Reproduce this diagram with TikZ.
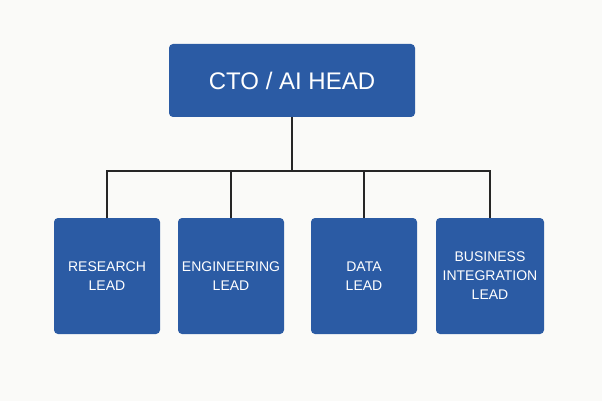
\documentclass[tikz,border=0pt]{standalone}
\usepackage{fontspec}
\setmainfont{Liberation Sans}
\usetikzlibrary{positioning}
\definecolor{leadblue}{RGB}{43,91,164}
\definecolor{paper}{RGB}{250,250,248}
\tikzset{headbox/.style={rounded corners=4, fill=leadblue, text=white, minimum width=246pt, minimum height=73pt, font=\fontsize{24}{26}\selectfont}}
\tikzset{leadbox/.style={rounded corners=4, fill=leadblue, text=white, minimum width=106pt, minimum height=116pt, align=center, font=\fontsize{14}{19}\selectfont}}
\tikzset{wire/.style={draw, line width=1.6pt, black!85}}
\begin{document}
\begin{tikzpicture}[x=1pt,y=-1pt]
    \fill[paper] (0,0) rectangle (602,401);
    \useasboundingbox (0,0) rectangle (602,401);
    \node[headbox] (cto) at (292,80.5) {CTO / AI HEAD};
    \node[leadbox] (research) at (107,276) {RESEARCH\\LEAD};
    \node[leadbox] (engineering) at (231,276) {ENGINEERING\\LEAD};
    \node[leadbox] (data) at (364,276) {DATA\\LEAD};
    \node[leadbox, minimum width=108pt] (business) at (490,276) {BUSINESS\\INTEGRATION\\LEAD};
    \coordinate (bus) at (292,171);
    \draw[wire] (cto.south) -- (bus);
    \draw[wire] (research.north) |- (bus) -| (business.north);
    \draw[wire] (engineering.north) -- (engineering.north |- bus);
    \draw[wire] (data.north) -- (data.north |- bus);
\end{tikzpicture}
\end{document}
